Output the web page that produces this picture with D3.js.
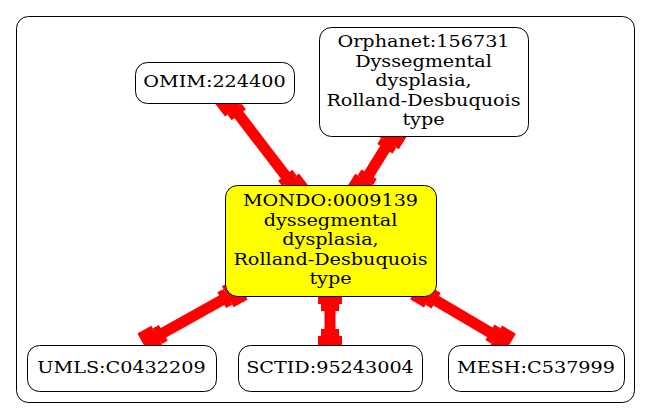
<!DOCTYPE html>
<html><head><meta charset="utf-8">
<script src="https://cdn.jsdelivr.net/npm/d3@7"></script>
<style>body{margin:0;background:#fff}</style>
</head><body>
<script>
var nodeIds = ["omim", "orpha", "mondo", "umls", "sctid", "mesh"];
var nodeLabels = [
  ["OMIM:224400"],
  ["Orphanet:156731", "Dyssegmental", "dysplasia,", "Rolland-Desbuquois", "type"],
  ["MONDO:0009139", "dyssegmental", "dysplasia,", "Rolland-Desbuquois", "type"],
  ["UMLS:C0432209"],
  ["SCTID:95243004"],
  ["MESH:C537999"]
];
var nodeFills = ["#fff", "#fff", "#ffff00", "#fff", "#fff", "#fff"];
// layout: x, y, w, h
var nodeBoxes = [
  [135, 62, 159, 41], [319, 27, 209, 109], [225, 185, 211, 111],
  [27, 345, 189, 46], [238, 345, 184, 46], [448, 345, 176, 46]
];
var edges = [["omim", "mondo"], ["orpha", "mondo"], ["mondo", "umls"], ["mondo", "sctid"], ["mondo", "mesh"]];
// edge endpoints on the node borders
var edgeEnds = [
  [[226, 98], [298, 192]], [[396, 131], [358, 192]], [[240, 290], [145, 343]],
  [[330, 290], [330, 350]], [[418, 290], [508, 343]]
];

var svg = d3.select("body").append("svg").attr("width", 651).attr("height", 419);
svg.append("rect").attr("x", 16.5).attr("y", 16.5).attr("width", 618).attr("height", 386)
  .attr("rx", 12).attr("fill", "none").attr("stroke", "#000");

var eg = svg.append("g");
edges.forEach(function (e, i) {
  var a = edgeEnds[i][0], b = edgeEnds[i][1];
  eg.append("line").attr("x1", a[0]).attr("y1", a[1]).attr("x2", b[0]).attr("y2", b[1])
    .attr("stroke", "red").attr("stroke-width", 11);
  [[a, b], [b, a]].forEach(function (p) {
    var s = p[0], t = p[1];
    var ang = Math.atan2(t[1] - s[1], t[0] - s[0]) * 180 / Math.PI;
    var g = eg.append("g").attr("transform", "translate(" + s[0] + "," + s[1] + ") rotate(" + ang + ")");
    g.append("rect").attr("x", -2).attr("y", -12).attr("width", 16).attr("height", 24).attr("fill", "red");
    g.append("rect").attr("x", 14).attr("y", -9).attr("width", 7).attr("height", 18).attr("fill", "red");
  });
});

var ng = svg.selectAll("g.node").data(nodeIds).enter().append("g").attr("class", "node");
ng.append("rect")
  .attr("x", function (d, i) { return nodeBoxes[i][0] + 0.5; })
  .attr("y", function (d, i) { return nodeBoxes[i][1] + 0.5; })
  .attr("width", function (d, i) { return nodeBoxes[i][2]; })
  .attr("height", function (d, i) { return nodeBoxes[i][3]; })
  .attr("rx", 12)
  .attr("fill", function (d, i) { return nodeFills[i]; })
  .attr("stroke", "#000");
ng.each(function (d, i) {
  var b = nodeBoxes[i], lines = nodeLabels[i], lh = 19.5;
  var cx = b[0] + b[2] / 2, cy = b[1] + b[3] / 2;
  var y0 = cy - (lines.length - 1) * lh / 2 + 5;
  d3.select(this).append("g")
    .attr("transform", "translate(" + cx + ",0) scale(1.2,1)")
    .selectAll("text").data(lines).enter().append("text")
    .attr("x", 0).attr("y", function (l, j) { return y0 + j * lh; })
    .attr("text-anchor", "middle")
    .attr("font-family", "'DejaVu Serif', serif").attr("font-size", 16)
    .text(function (l) { return l; });
});
</script>
</body></html>
